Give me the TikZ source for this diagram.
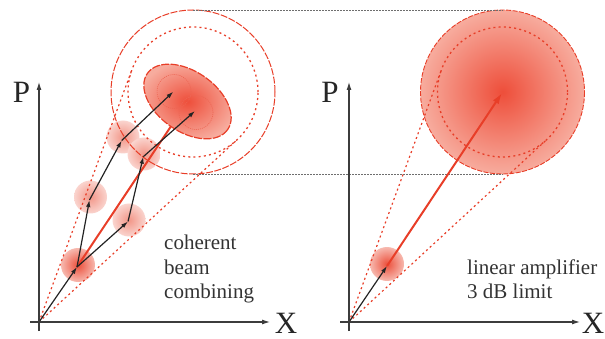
\documentclass[tikz,border=0pt]{standalone}
\usepackage{fontspec}
\setmainfont{Liberation Serif}
\usetikzlibrary{arrows.meta,calc}
\definecolor{lred}{RGB}{232,62,40}
\definecolor{axisgray}{RGB}{60,60,60}
\definecolor{vecblack}{RGB}{35,35,35}
\definecolor{guidegray}{RGB}{110,110,110}
\definecolor{hotin}{RGB}{238,78,58}
\definecolor{hotout}{RGB}{247,172,158}
\definecolor{beamin}{RGB}{242,150,136}
\definecolor{beamout}{RGB}{250,212,206}
\definecolor{smallin}{RGB}{236,80,60}
\definecolor{smallout}{RGB}{247,185,175}
\begin{document}
\begin{tikzpicture}[x=1pt,y=-1pt,
  axis/.style={draw=axisgray, line width=1.1pt, -{Latex[length=8pt,width=5pt]}},
  vec/.style={draw=vecblack, line width=1.2pt, -{Latex[length=7pt,width=4.5pt]}},
  redvec/.style={draw=lred, line width=2pt, -{Latex[length=11pt,width=7pt]}},
  redline/.style={draw=lred, line width=2pt},
  tanline/.style={draw=lred, line width=1.2pt, dash pattern=on 2pt off 3pt},
  outercirc/.style={circle, draw=lred, line width=1pt, dash pattern=on 7pt off 1.5pt, minimum size=164pt, inner sep=0pt, outer sep=0pt},
  innercirc/.style={circle, draw=lred, line width=1.3pt, dash pattern=on 2pt off 3.2pt, minimum size=130pt, inner sep=0pt, outer sep=0pt},
  smalldot/.style={circle, draw=lred!80, line width=0.6pt, dash pattern=on 1pt off 1pt, minimum size=34pt, inner sep=0pt},
  guide/.style={draw=guidegray, line width=0.8pt, dash pattern=on 1.5pt off 1.5pt},
  beam/.style={circle, minimum size=33pt, inner sep=0pt, inner color=beamin, outer color=beamout},
  hotbeam/.style={circle, minimum size=34pt, inner sep=0pt, inner color=smallin, outer color=smallout},
  axlabel/.style={font=\fontsize{31}{31}\selectfont, text=black!85, inner sep=0pt},
  caption/.style={font=\fontsize{21}{24}\selectfont, text=black!80, align=left, inner sep=0pt, anchor=base west}
]
\useasboundingbox (0,0) rectangle (605,339);

% ---------- coordinates ----------
\coordinate (O1) at (39,322);
\coordinate (O2) at (349,322);
\coordinate (t0) at (77,267);
\coordinate (t1) at (89.5,200);
\coordinate (t2) at (128,221.5);
\coordinate (t3) at (121.7,140.5);
\coordinate (t4) at (143.3,156.7);
\coordinate (t5) at (173.3,91.7);
\coordinate (t6) at (195,111);
\coordinate (Ec) at (187.5,101.5);
\coordinate (r0) at (387,266);
\coordinate (r1) at (502,93);

% ---------- left beam circles ----------
\node[hotbeam] (b0) at (78,265) {};
\node[beam] (b1) at (90.5,197) {};
\node[beam] (b2) at (129,220) {};
\node[beam] (b3) at (123,137) {};
\node[beam] (b4) at (144,154) {};

% ---------- right big circle ----------
\node[circle, minimum size=164pt, inner sep=0pt, outer sep=0pt, inner color=hotin, outer color=hotout] (RB) at (502.5,92) {};
\draw[lred, line width=0.9pt, dash pattern=on 5pt off 1.5pt] (RB.center) circle[radius=82];
\node[hotbeam] (s0) at (387,264) {};

% ---------- circles ----------
\node[outercirc] (LO) at (193,92) {};
\node[innercirc] (LI) at (193,92) {};
\node[circle, minimum size=164pt, inner sep=0pt, outer sep=0pt] (RO) at (502.5,92) {};
\node[innercirc] (RI) at (502.5,92) {};

% ---------- guide lines ----------
\draw[guide] (LO.north) -- (RO.north);
\draw[guide] (LO.south) -- (RO.south);

% ---------- tangent lines ----------
\draw[tanline] (O1) -- (tangent cs:node=LI,point={(O1)},solution=1);
\draw[tanline] (O1) -- (tangent cs:node=LI,point={(O1)},solution=2);
\draw[tanline] (O2) -- (tangent cs:node=RI,point={(O2)},solution=1);
\draw[tanline] (O2) -- (tangent cs:node=RI,point={(O2)},solution=2);

% ---------- left red resultant (under ellipse) ----------
\draw[redline] (t0) -- (Ec);

% ---------- ellipse ----------
\begin{scope}[shift={(Ec)}, rotate=-35]
  \shade[inner color=hotin, outer color=hotout] (0,0) ellipse[x radius=49, y radius=30];
  \draw[lred, line width=1.2pt, dash pattern=on 8pt off 1.5pt] (0,0) ellipse[x radius=49, y radius=30];
\end{scope}
\node[smalldot] (c1) at (174,91.5) {};
\node[smalldot] (c2) at (196,112.5) {};

% ---------- vectors ----------
\draw[vec] (O1) -- (t0);
\draw[vec] (t0) -- (t1);
\draw[vec] (t0) -- (t2);
\draw[vec] (t1) -- (t3);
\draw[vec] (t2) -- (t4);
\draw[vec] (t3) -- (t5);
\draw[vec] (t4) -- (t6);
\draw[vec] (O2) -- (r0);
\draw[redvec] (r0) -- (r1);

% ---------- axes ----------
\coordinate (P1a) at (39,331);
\coordinate (P1b) at (39,82);
\coordinate (X1a) at (30,322);
\coordinate (X1b) at (270,322);
\coordinate (P2a) at (349,331);
\coordinate (P2b) at (349,82);
\coordinate (X2a) at (340,322);
\coordinate (X2b) at (580,322);
\draw[axis] (P1a) -- (P1b);
\draw[axis] (X1a) -- (X1b);
\draw[axis] (P2a) -- (P2b);
\draw[axis] (X2a) -- (X2b);

\node[axlabel] (Pl) at (21.5,92) {P};
\node[axlabel] (Xl) at (286,323) {X};
\node[axlabel] (Pr) at (330,92) {P};
\node[axlabel] (Xr) at (593,323) {X};

\node[caption] (cap1) at (164,298) {coherent\\beam\\combining};
\node[caption] (cap2) at (467,298) {linear amplifier\\3 dB limit};
\end{tikzpicture}
\end{document}
